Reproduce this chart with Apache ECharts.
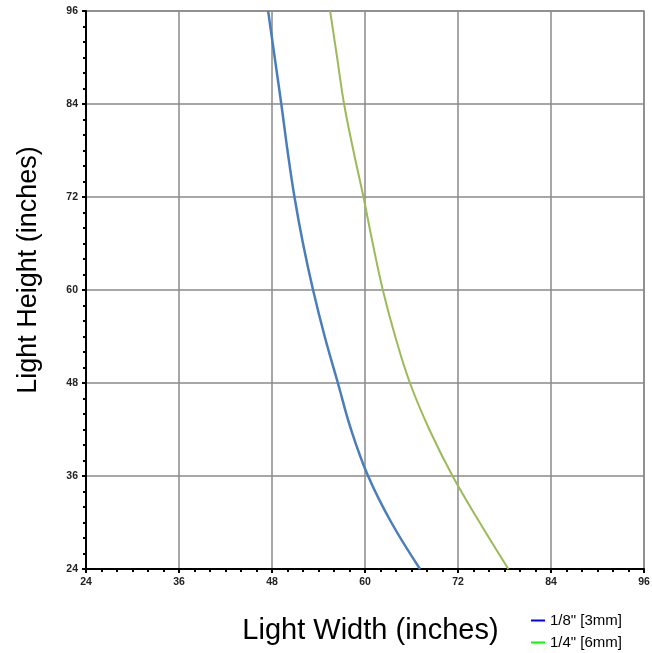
<!DOCTYPE html>
<html>
<head>
<meta charset="utf-8">
<script src="https://cdn.jsdelivr.net/npm/echarts@6/dist/echarts.min.js"></script>
<style>html,body{margin:0;padding:0;background:#fff;}#c{width:652px;height:653px;}</style>
</head>
<body>
<div id="c"></div>
<script>
const heights = [96, 90, 84, 78, 72, 66, 60, 54, 48, 42, 36, 30, 24];
const widths3mm = [47.5, 48.35, 49.2, 50.0, 50.9, 52.0, 53.3, 54.8, 56.5, 58.2, 60.4, 63.4, 67.1];
const widths6mm = [55.5, 56.4, 57.3, 58.5, 59.8, 61.0, 62.3, 63.9, 65.8, 68.3, 71.3, 74.8, 78.5];
const seriesNames = ['1/8" [3mm]', '1/4" [6mm]'];
const tickValues = [24, 36, 48, 60, 72, 84, 96];

const chart = echarts.init(document.getElementById('c'), null, {renderer: 'canvas'});
const pairs = (ws) => ws.map((w, i) => [w, heights[i]]);
const font = 'Liberation Sans, Arial';
const axisCommon = {
  type: 'value', min: tickValues[0], max: tickValues[tickValues.length - 1], interval: 12,
  axisLine: {show: true, onZero: false, lineStyle: {color: '#000', width: 2}},
  axisTick: {show: true, length: 4, lineStyle: {color: '#000', width: 2}},
  minorTick: {show: true, splitNumber: 6, length: 3, lineStyle: {color: '#000', width: 2}},
  splitLine: {show: true, lineStyle: {color: '#8a8a8a', width: 1.5}},
  axisLabel: {fontFamily: font, fontWeight: 'bold', fontSize: 10.5, color: '#222', margin: 8}
};
const legendCommon = {
  orient: 'vertical', left: 526, icon: 'rect', itemWidth: 14, itemHeight: 2, itemGap: 6,
  textStyle: {fontFamily: font, fontSize: 15, color: '#000'}
};
chart.setOption({
  animation: false,
  backgroundColor: '#fff',
  grid: {left: 86, right: 8, top: 11, bottom: 84, show: true, borderColor: '#8a8a8a', borderWidth: 1.5,
         containLabel: false, outerBoundsMode: 'none'},
  xAxis: Object.assign({}, axisCommon, {
    name: 'Light Width (inches)', nameLocation: 'middle', nameGap: 47,
    nameTextStyle: {fontFamily: font, fontSize: 29, color: '#000', padding: [0, 0, 0, 11]}
  }),
  yAxis: Object.assign({}, axisCommon, {
    name: 'Light Height (inches)', nameLocation: 'middle', nameGap: 44, nameRotate: 90,
    nameTextStyle: {fontFamily: font, fontSize: 27, color: '#000', padding: [0, 0, 0, 40]}
  }),
  legend: [
    Object.assign({}, legendCommon, {top: 608, data: [{name: seriesNames[0], itemStyle: {color: '#0000ff'}}]}),
    Object.assign({}, legendCommon, {top: 630, data: [{name: seriesNames[1], itemStyle: {color: '#00ff00'}}]})
  ],
  series: [
    {name: seriesNames[0], type: 'line', smooth: 0.4, showSymbol: false, data: pairs(widths3mm),
     lineStyle: {color: '#4a7ebb', width: 2.5}, itemStyle: {color: '#0000ff'}},
    {name: seriesNames[1], type: 'line', smooth: 0.4, showSymbol: false, data: pairs(widths6mm),
     lineStyle: {color: '#9bbb59', width: 2}, itemStyle: {color: '#00ff00'}}
  ]
});
</script>
</body>
</html>
